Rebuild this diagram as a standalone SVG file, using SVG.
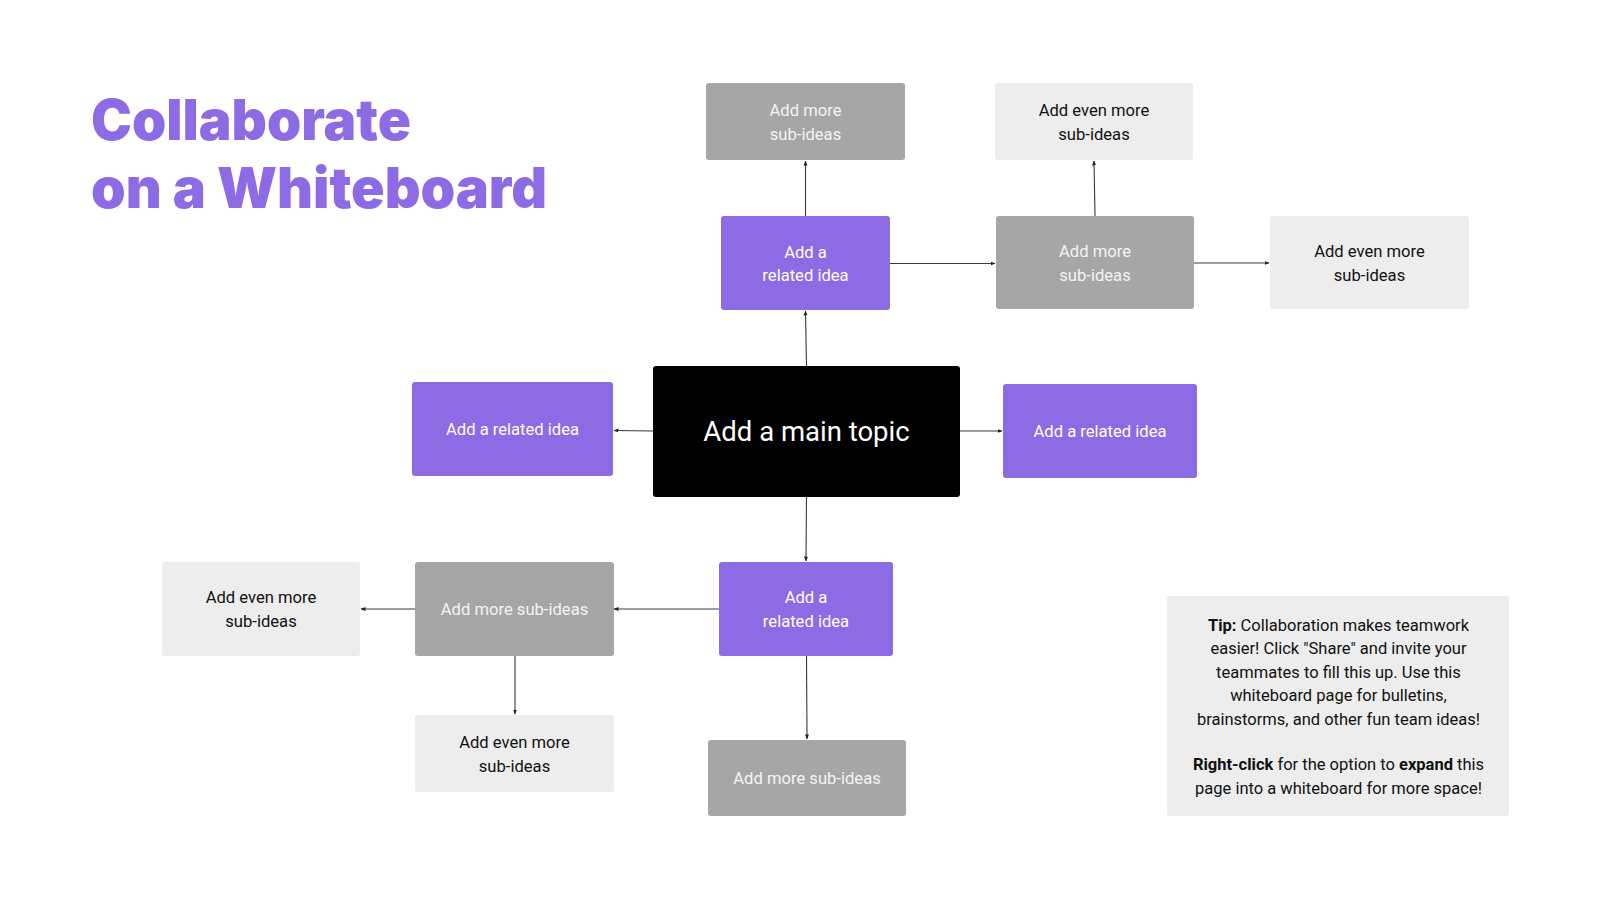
<svg xmlns="http://www.w3.org/2000/svg" width="1600" height="900" viewBox="0 0 1600 900">
<defs>
<style>
.title{font-family:Inter,"Liberation Sans",sans-serif;font-weight:900;font-size:56px;fill:#8d6be5}
.t{font-family:Roboto,"Liberation Sans",sans-serif;font-size:16.6px;text-anchor:middle}
.w{fill:#ffffff}
.g{fill:#f4f4f4}
.k{fill:#111111}
.purple{fill:#8d6be5}
.gray{fill:#a6a6a6}
.light{fill:#ededed}
.main{fill:#000000}
.c{stroke:#3a3a3a;stroke-width:1.1;fill:none;marker-end:url(#ah)}
.tip{font-family:Roboto,"Liberation Sans",sans-serif;font-size:16.5px;text-anchor:middle;fill:#111111}
</style>
<marker id="ah" markerUnits="userSpaceOnUse" markerWidth="5" markerHeight="5" refX="4.5" refY="2.5" orient="auto">
<path d="M0,0.5 L5,2.5 L0,4.5 Z" fill="#222"/>
</marker>
</defs>
<rect width="1600" height="900" fill="#ffffff"/>
<g id="title">
<text class="title" x="91" y="140" textLength="320" lengthAdjust="spacingAndGlyphs">Collaborate</text>
<text class="title" x="91" y="208" textLength="456" lengthAdjust="spacingAndGlyphs">on a Whiteboard</text>
</g>
<g id="connectors">
<path class="c" d="M806.5,366 L805.5,311"/>
<path class="c" d="M805.5,216 L805.5,161"/>
<path class="c" d="M890,263.5 L995,263.5"/>
<path class="c" d="M1095,216 L1094,161"/>
<path class="c" d="M1194,263 L1269,263"/>
<path class="c" d="M653,431 L614,430.5"/>
<path class="c" d="M960,431 L1002,431"/>
<path class="c" d="M806.5,497 L806,561"/>
<path class="c" d="M719,609 L614,609"/>
<path class="c" d="M415,609 L361,609"/>
<path class="c" d="M515,656 L515,714"/>
<path class="c" d="M806.5,656 L807,739"/>
</g>
<g id="n-main"><rect class="main" x="653" y="366" width="307" height="131" rx="3"/><text class="t w" x="806.5" y="441" style="font-size:27.5px">Add a main topic</text></g>
<g id="n-top-related"><rect class="purple" x="721" y="216" width="169" height="94" rx="3"/><text class="t w" x="805.5" y="257.5">Add a</text><text class="t w" x="805.5" y="281">related idea</text></g>
<g id="n-top-sub"><rect class="gray" x="706" y="83" width="199" height="77" rx="3"/><text class="t g" x="805.5" y="116">Add more</text><text class="t g" x="805.5" y="139.5">sub-ideas</text></g>
<g id="n-top-right-even"><rect class="light" x="995" y="83" width="198" height="77" rx="3"/><text class="t k" x="1094" y="116">Add even more</text><text class="t k" x="1094" y="139.5">sub-ideas</text></g>
<g id="n-right-sub"><rect class="gray" x="996" y="216" width="198" height="93" rx="3"/><text class="t g" x="1095" y="257">Add more</text><text class="t g" x="1095" y="280.5">sub-ideas</text></g>
<g id="n-far-right-even"><rect class="light" x="1270" y="216" width="199" height="93" rx="3"/><text class="t k" x="1369.5" y="257">Add even more</text><text class="t k" x="1369.5" y="280.5">sub-ideas</text></g>
<g id="n-left-related"><rect class="purple" x="412" y="382" width="201" height="94" rx="3"/><text class="t w" x="512.5" y="435">Add a related idea</text></g>
<g id="n-right-related"><rect class="purple" x="1003" y="384" width="194" height="94" rx="3"/><text class="t w" x="1100" y="436.5">Add a related idea</text></g>
<g id="n-bottom-related"><rect class="purple" x="719" y="562" width="174" height="94" rx="3"/><text class="t w" x="806" y="603">Add a</text><text class="t w" x="806" y="626.5">related idea</text></g>
<g id="n-bottom-left-sub"><rect class="gray" x="415" y="562" width="199" height="94" rx="3"/><text class="t g" x="514.5" y="615">Add more sub-ideas</text></g>
<g id="n-far-left-even"><rect class="light" x="162" y="562" width="198" height="94" rx="3"/><text class="t k" x="261" y="603">Add even more</text><text class="t k" x="261" y="626.5">sub-ideas</text></g>
<g id="n-below-even"><rect class="light" x="415" y="715" width="199" height="77" rx="3"/><text class="t k" x="514.5" y="748">Add even more</text><text class="t k" x="514.5" y="771.5">sub-ideas</text></g>
<g id="n-bottom-sub"><rect class="gray" x="708" y="740" width="198" height="76" rx="3"/><text class="t g" x="807" y="783.5">Add more sub-ideas</text></g>
<g id="tip">
<rect class="light" x="1167" y="596" width="342" height="220" rx="3"/>
<text class="tip" x="1338.5" y="630.5"><tspan font-weight="bold">Tip:</tspan> Collaboration makes teamwork</text>
<text class="tip" x="1338.5" y="654">easier! Click "Share" and invite your</text>
<text class="tip" x="1338.5" y="677.5">teammates to fill this up. Use this</text>
<text class="tip" x="1338.5" y="701">whiteboard page for bulletins,</text>
<text class="tip" x="1338.5" y="724.5">brainstorms, and other fun team ideas!</text>
<text class="tip" x="1338.5" y="770"><tspan font-weight="bold">Right-click</tspan> for the option to <tspan font-weight="bold">expand</tspan> this</text>
<text class="tip" x="1338.5" y="794">page into a whiteboard for more space!</text>
</g>
</svg>
